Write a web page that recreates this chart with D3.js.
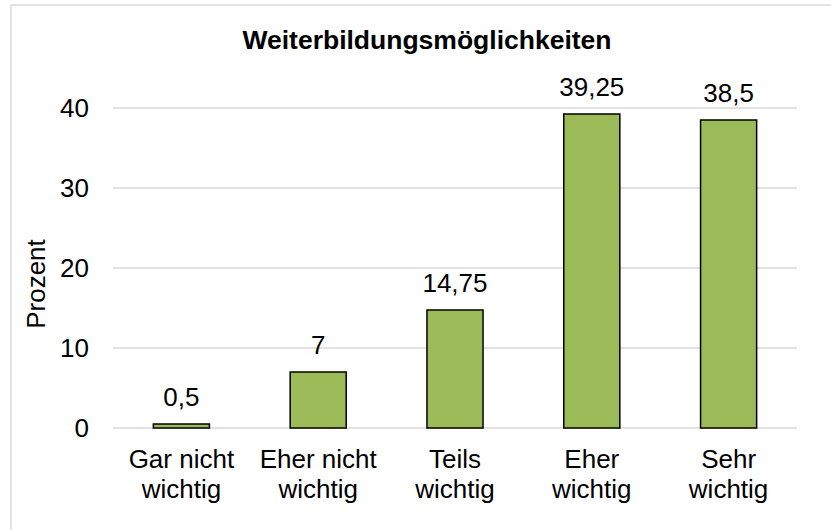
<!DOCTYPE html>
<html>
<head>
<meta charset="utf-8">
<script src="https://cdn.jsdelivr.net/npm/d3@7"></script>
<style>
  body { margin: 0; background: #fff; }
  svg { display: block; font-family: "Liberation Sans", Arial, sans-serif; }
</style>
</head>
<body>
<script>
// data
var categories = [["Gar nicht", "wichtig"], ["Eher nicht", "wichtig"], ["Teils", "wichtig"], ["Eher", "wichtig"], ["Sehr", "wichtig"]];
var values = [0.5, 7, 14.75, 39.25, 38.5];
var yTicks = [0, 10, 20, 30, 40];
var title = "Weiterbildungsmöglichkeiten";
var yTitle = "Prozent";

var W = 831, H = 530;
var svg = d3.select("body").append("svg")
  .attr("width", W)
  .attr("height", H);

// chart border (only top and left visible in frame)
svg.append("rect")
  .attr("x", 11).attr("y", 5)
  .attr("width", 840).attr("height", 540)
  .attr("fill", "none")
  .attr("stroke", "#d9d9d9")
  .attr("stroke-width", 1.5);

var x = d3.scaleBand()
  .domain(d3.range(categories.length))
  .range([113, 797])
  .paddingInner(0.59)
  .paddingOuter(0.295);

var y = d3.scaleLinear()
  .domain([0, 40])
  .range([428, 108]);

// gridlines
svg.append("g")
  .selectAll("line")
  .data(yTicks)
  .enter()
  .append("line")
    .attr("x1", 113).attr("x2", 797)
    .attr("y1", d => y(d)).attr("y2", d => y(d))
    .attr("stroke", "#d9d9d9")
    .attr("stroke-width", 1.5);

// y tick labels
svg.append("g")
  .selectAll("text")
  .data(yTicks)
  .enter()
  .append("text")
    .attr("x", 89)
    .attr("y", d => y(d))
    .attr("dy", "0.35em")
    .attr("text-anchor", "end")
    .style("font-size", "26px")
    .attr("fill", "#000")
    .text(d => d);

// bars
svg.append("g")
  .selectAll("rect")
  .data(values)
  .enter()
  .append("rect")
    .attr("x", (d, i) => x(i))
    .attr("y", d => y(d))
    .attr("width", x.bandwidth())
    .attr("height", d => y(0) - y(d))
    .attr("fill", "#9bbb59")
    .attr("stroke", "#000")
    .attr("stroke-width", 1.5);

// value labels
svg.append("g")
  .selectAll("text")
  .data(values)
  .enter()
  .append("text")
    .attr("x", (d, i) => x(i) + x.bandwidth() / 2)
    .attr("y", d => y(d) - 18)
    .attr("text-anchor", "middle")
    .style("font-size", "26px")
    .text(d => String(d).replace(".", ","));

// category labels
var cat = svg.append("g")
  .selectAll("text")
  .data(categories)
  .enter()
  .append("text")
    .attr("text-anchor", "middle")
    .style("font-size", "26px");

cat.each(function (d, i) {
  var t = d3.select(this);
  d.forEach(function (line, j) {
    t.append("tspan")
      .attr("x", x(i) + x.bandwidth() / 2)
      .attr("y", 468 + j * 30)
      .text(line);
  });
});

// title
svg.append("text")
  .attr("x", 427)
  .attr("y", 49)
  .attr("text-anchor", "middle")
  .style("font-size", "26.5px")
  .style("font-weight", "bold")
  .text(title);

// y axis title
svg.append("text")
  .attr("transform", "translate(45,284) rotate(-90)")
  .attr("text-anchor", "middle")
  .style("font-size", "26px")
  .text(yTitle);
</script>
</body>
</html>
